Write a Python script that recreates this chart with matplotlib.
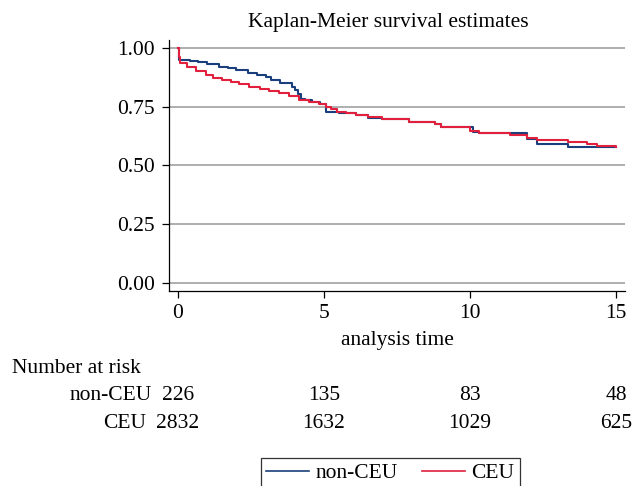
import matplotlib
matplotlib.use("Agg")
import matplotlib.pyplot as plt
from matplotlib.lines import Line2D

plt.rcParams['font.family'] = ['Liberation Serif', 'DejaVu Serif']

# Kaplan-Meier step estimates
noncue_t = [0, 0.02, 0.4, 0.7, 1.0, 1.4, 1.7, 2.0, 2.4, 2.7, 3.0, 3.2, 3.5, 3.9,
            4.0, 4.1, 4.22, 4.35, 4.6, 4.85, 5.07, 5.5, 6.1, 6.5, 7.0, 7.9, 8.8,
            9.0, 10.1, 10.3, 11.95, 12.3, 13.35, 14.4, 15.0]
noncue_s = [1.0, 0.950, 0.945, 0.940, 0.930, 0.920, 0.913, 0.906, 0.893, 0.886,
            0.878, 0.864, 0.850, 0.835, 0.820, 0.805, 0.785, 0.778, 0.772, 0.762,
            0.729, 0.722, 0.715, 0.702, 0.697, 0.684, 0.675, 0.663, 0.644, 0.637,
            0.611, 0.590, 0.580, 0.578, 0.578]

ceu_t = [0, 0.03, 0.08, 0.3, 0.6, 0.96, 1.2, 1.5, 1.8, 2.1, 2.44, 2.8, 3.1, 3.47,
         3.8, 4.15, 4.5, 4.84, 5.07, 5.25, 5.45, 5.77, 6.1, 6.5, 7.0, 7.9, 8.8,
         9.0, 10.0, 10.3, 11.36, 11.95, 12.3, 13.35, 14.0, 14.35, 15.0]
ceu_s = [1.0, 0.96, 0.936, 0.92, 0.90, 0.885, 0.872, 0.865, 0.857, 0.845, 0.835,
         0.827, 0.818, 0.81, 0.797, 0.78, 0.772, 0.762, 0.75, 0.74, 0.729, 0.722,
         0.715, 0.705, 0.697, 0.684, 0.675, 0.663, 0.648, 0.637, 0.630, 0.618,
         0.609, 0.599, 0.59, 0.583, 0.58]

group_labels = ["non-CEU", "CEU"]
risk_times = [0, 5, 10, 15]
risk_noncue = [226, 135, 83, 48]
risk_ceu = [2832, 1632, 1029, 625]

x_ticks = [0, 5, 10, 15]
y_ticks = [0.0, 0.25, 0.5, 0.75, 1.0]
y_ticklabels = ["0.00", "0.25", "0.50", "0.75", "1.00"]

NAVY = '#1a3f7c'
RED = '#e0203c'
GRID = '#a8a8a8'
FS = 15.5

W, H = 635, 486
fig = plt.figure(figsize=(W / 100, H / 100), dpi=100)
ax = fig.add_axes([169 / W, 1 - 291 / H, (625 - 169) / W, (291 - 40) / H])

ax.step(noncue_t, noncue_s, where='post', color=NAVY, lw=1.5, zorder=3)
ax.step(ceu_t, ceu_s, where='post', color=RED, lw=1.5, zorder=4)

ax.set_xlim(-0.31, 15.31)
ax.set_ylim(-0.034, 1.034)
ax.set_xticks(x_ticks)
ax.set_yticks(y_ticks)
ax.set_yticklabels(y_ticklabels)
for y in y_ticks:
    ax.axhline(y, color=GRID, lw=1.3, zorder=1)

for s in ['top', 'right']:
    ax.spines[s].set_visible(False)
for s in ['left', 'bottom']:
    ax.spines[s].set_color('black')
    ax.spines[s].set_linewidth(0.9)
ax.tick_params(axis='both', direction='out', length=5, width=0.9,
               labelsize=FS, colors='black')
ax.tick_params(axis='y', pad=5)
ax.tick_params(axis='x', pad=4)

fig.text(397 / W, 1 - 341 / H, "analysis time", fontsize=FS, ha='center', va='center')
fig.text(388 / W, 1 - 23 / H, "Kaplan-Meier survival estimates", fontsize=FS,
         ha='center', va='center')

# Number at risk table
fig.text(12 / W, 1 - 368 / H, "Number at risk", fontsize=FS, ha='left', va='center')
row_y = [396, 423]
row_label_x = [152, 146]
for lab, vals, yy, lx in zip(group_labels, [risk_noncue, risk_ceu], row_y, row_label_x):
    fig.text(lx / W, 1 - yy / H, lab, fontsize=FS, ha='right', va='center')
    for t, v in zip(risk_times, vals):
        xd = ax.transData.transform((t, 0))[0]
        fig.text(xd / W, 1 - yy / H, str(v), fontsize=FS, ha='center', va='center')

handles = [Line2D([], [], color=NAVY, lw=1.2), Line2D([], [], color=RED, lw=1.2)]
leg = fig.legend(handles, group_labels, loc='upper left',
                 bbox_to_anchor=(261 / W, 1 - 458 / H), ncol=2, fontsize=FS,
                 frameon=True, fancybox=False, edgecolor='black',
                 handlelength=2.0, columnspacing=1.1, handletextpad=0.3,
                 borderpad=0.25, borderaxespad=0)
leg.get_frame().set_linewidth(0.9)

fig.savefig("out.png", dpi=100)
